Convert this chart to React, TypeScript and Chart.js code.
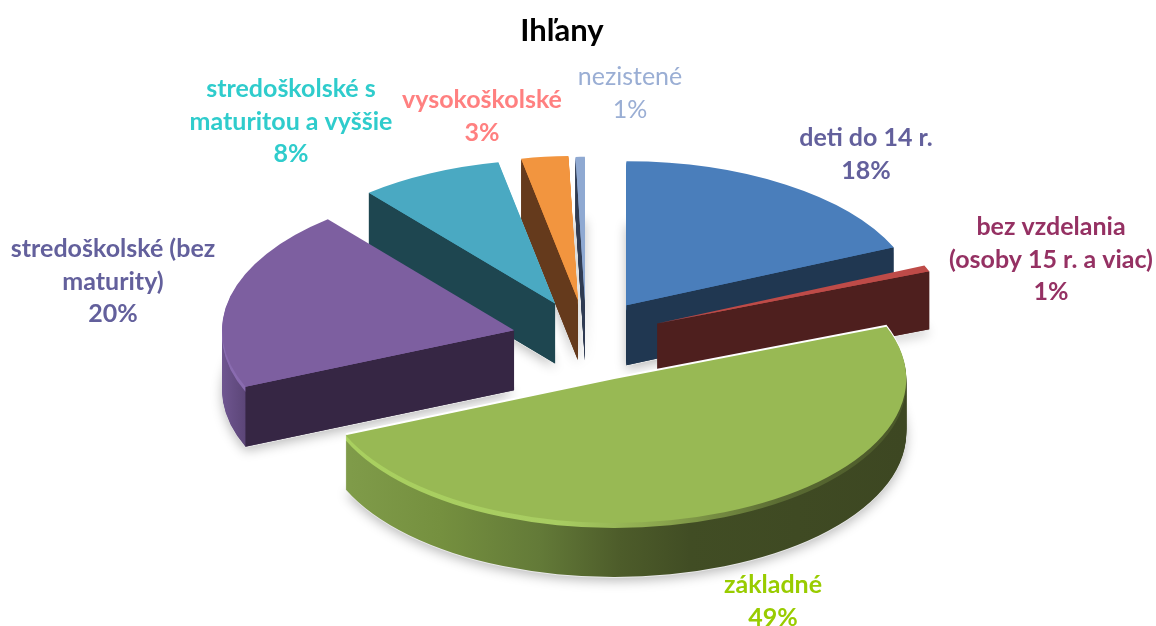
import React, { useEffect, useRef } from "react";
import { Chart, registerables } from "chart.js";

Chart.register(...registerables);

const CATEGORIES = [
  "deti do 14 r.",
  "bez vzdelania (osoby 15 r. a viac)",
  "základné",
  "stredoškolské (bez maturity)",
  "stredoškolské s maturitou a vyššie",
  "vysokoškolské",
  "nezistené",
];
const VALUES = [18.4, 0.7, 49.49, 20.4, 7.9, 2.6, 0.51];
const PERCENT_LABELS = ["18%", "1%", "49%", "20%", "8%", "3%", "1%"];
const LABEL_LINES = [
  ["deti do 14 r."],
  ["bez vzdelania", "(osoby 15 r. a viac)"],
  ["základné"],
  ["stredoškolské (bez", "maturity)"],
  ["stredoškolské s", "maturitou a vyššie"],
  ["vysokoškolské"],
  ["nezistené"],
];
const TOP_COLORS = ["#4a7ebb", "#be4b48", "#98b954", "#7d5fa0", "#4aa9c2", "#f2953f", "#8fa9d2"];
const CUT_COLORS = ["#203751", "#4e1f1e", "#3f4a22", "#362644", "#1e4650", "#653a1c", "#2f3b52"];
const LABEL_COLORS = ["#63609c", "#953163", "#99cc00", "#63609c", "#2fcccc", "#ff8080", "#9aaed4"];
const LABEL_WEIGHTS = ["bold", "bold", "bold", "bold", "bold", "bold", "normal"];
const LABEL_ANCHORS = [
  [866, 138],
  [1051, 227],
  [773, 585],
  [113, 249],
  [291, 89],
  [482, 100],
  [630, 77],
];
const EXPLOSION = [74, 77, 75, 74, 72, 72, 70];
const DEPTHS = [60, 58, 54, 60, 60, 60, 60];
const DRAW_ORDER = [6, 5, 4, 0, 1, 3, 2];

const CENTER_X = 586;
const CENTER_Y = 340;
const RADIUS_X = 292;
const RADIUS_Y = 144;
const EXPLODE_Y = 0.56;
const BEVEL = 5;
const LINE_HEIGHT = 32.5;
const FONT_SIZE = 25;
const FONT_FAMILY = "Lato, Carlito, sans-serif";

function arcOptions(fill: any) {
  return {
    backgroundColor: fill,
    borderColor: "transparent",
    borderWidth: 0,
    offset: 0,
    spacing: 0,
    borderRadius: 0,
    circular: true,
    borderAlign: "center",
    borderDash: [],
    borderDashOffset: 0,
    borderJoinStyle: "round",
  };
}

const pie3dPlugin = {
  id: "pie3d",
  beforeDatasetsDraw(chart: any) {
    const ctx = chart.ctx;
    const arcs = chart.getDatasetMeta(0).data;

    const geometry = (i: number) => {
      const arc = arcs[i];
      const mid = (arc.startAngle + arc.endAngle) / 2;
      const sx = RADIUS_X / arc.outerRadius;
      const sy = RADIUS_Y / arc.outerRadius;
      const ax = CENTER_X + EXPLOSION[i] * Math.cos(mid);
      const ay = CENTER_Y + EXPLOSION[i] * EXPLODE_Y * Math.sin(mid);
      return { arc, sx, sy, ax, ay };
    };

    const drawAt = (i: number, dy: number, fill: any) => {
      const { arc, sx, sy, ax, ay } = geometry(i);
      ctx.setTransform(sx, 0, 0, sy, ax - sx * arc.x, ay + dy - sy * arc.y);
      const saved = arc.options;
      arc.options = arcOptions(fill);
      arc.draw(ctx);
      arc.options = saved;
    };

    const horizontal = (i: number, stops: [number, string][]) => {
      const { arc, sx, ax } = geometry(i);
      const toUser = (x: number) => arc.x + (x - ax) / sx;
      const a = stops[0][0];
      const b = stops[stops.length - 1][0];
      const g = ctx.createLinearGradient(toUser(a), 0, toUser(b), 0);
      stops.forEach(([x, c]) => g.addColorStop((x - a) / (b - a), c));
      return g;
    };

    const rimFill = (i: number) => {
      if (i === 2)
        return horizontal(i, [
          [342, "#809c4a"],
          [440, "#75903f"],
          [540, "#637a38"],
          [620, "#4d5c2a"],
          [690, "#414d24"],
          [905, "#3d4722"],
        ]);
      if (i === 3)
        return horizontal(i, [
          [222, "#6f5690"],
          [245, "#5c4678"],
          [300, "#362644"],
        ]);
      return CUT_COLORS[i];
    };

    const bevelFill = (i: number) => {
      if (i === 2)
        return horizontal(i, [
          [342, "#a9d05f"],
          [560, "#a8cd62"],
          [660, "#8ba64e"],
          [780, "#5b6c33"],
          [905, "#4a5729"],
        ]);
      if (i === 3) return "#8a6cb0";
      return TOP_COLORS[i];
    };

    ctx.save();
    ctx.save();
    ctx.shadowColor = "rgba(0,0,0,0.28)";
    ctx.shadowBlur = 12;
    ctx.shadowOffsetY = 3;
    DRAW_ORDER.forEach((i) => drawAt(i, DEPTHS[i] + 1, "#e8e8e8"));
    ctx.restore();

    DRAW_ORDER.forEach((i) => {
      const { arc, ax, ay } = geometry(i);
      const depth = DEPTHS[i];
      if (i === 2) drawAt(i, -2, "#ffffff");

      const rim = rimFill(i);
      const bevel = bevelFill(i);
      for (let d = depth; d >= 1; d -= 1) {
        drawAt(i, d, d <= BEVEL ? bevel : rim);
      }

      ctx.setTransform(1, 0, 0, 1, 0, 0);
      [
        { angle: arc.startAngle, normal: arc.startAngle - Math.PI / 2 },
        { angle: arc.endAngle, normal: arc.endAngle + Math.PI / 2 },
      ].forEach(({ angle, normal }) => {
        if (Math.sin(normal) <= 0.001) return;
        const ex = ax + RADIUS_X * Math.cos(angle);
        const ey = ay + RADIUS_Y * Math.sin(angle);
        ctx.beginPath();
        ctx.moveTo(ax, ay);
        ctx.lineTo(ex, ey);
        ctx.lineTo(ex, ey + depth);
        ctx.lineTo(ax, ay + depth);
        ctx.closePath();
        ctx.fillStyle = CUT_COLORS[i];
        ctx.fill();
      });

      drawAt(i, 0, TOP_COLORS[i]);
    });
    ctx.restore();
    ctx.setTransform(1, 0, 0, 1, 0, 0);
    return false;
  },
  afterDraw(chart: any) {
    const ctx = chart.ctx;
    ctx.save();
    ctx.textAlign = "center";
    ctx.textBaseline = "middle";
    LABEL_LINES.forEach((lines, i) => {
      ctx.fillStyle = LABEL_COLORS[i];
      ctx.font = `${LABEL_WEIGHTS[i]} ${FONT_SIZE}px ${FONT_FAMILY}`;
      const [x, y] = LABEL_ANCHORS[i];
      [...lines, PERCENT_LABELS[i]].forEach((text, k) => {
        ctx.fillText(text, x, y + k * LINE_HEIGHT);
      });
    });
    ctx.restore();
  },
};

export default function App() {
  const ref = useRef<HTMLCanvasElement>(null);
  useEffect(() => {
    document.body.style.margin = "0";
    const chart = new Chart(ref.current as HTMLCanvasElement, {
      type: "pie",
      data: {
        labels: CATEGORIES,
        datasets: [{ data: VALUES, backgroundColor: TOP_COLORS, borderWidth: 0 }],
      },
      options: {
        responsive: false,
        animation: false,
        layout: { padding: { right: 32 } },
        plugins: {
          legend: { display: false },
          tooltip: { enabled: false },
          title: {
            display: true,
            text: "Ihľany",
            color: "#000000",
            font: { family: FONT_FAMILY, size: 31, weight: "bold" },
            padding: { top: 12, bottom: 10 },
          },
        },
      },
      plugins: [pie3dPlugin],
    } as any);
    return () => chart.destroy();
  }, []);
  return (
    <div style={{ width: 1156, height: 626 }}>
      <canvas ref={ref} width={1156} height={626} style={{ display: "block" }} />
    </div>
  );
}
